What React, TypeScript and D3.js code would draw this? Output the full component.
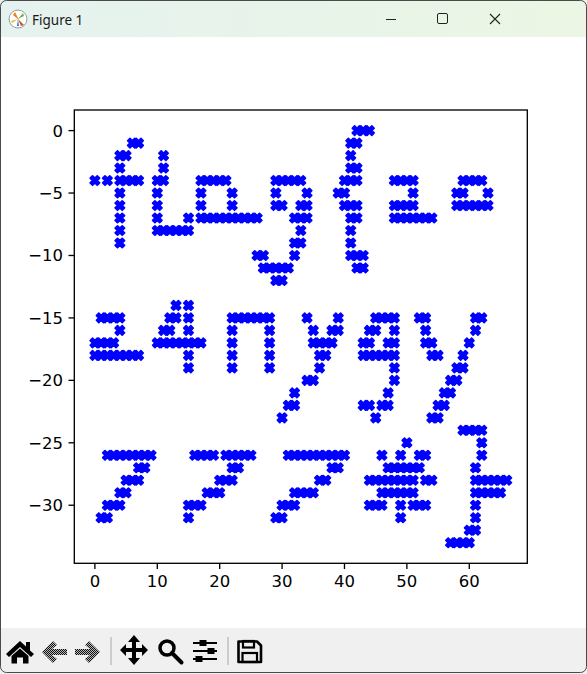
import React, { useEffect, useRef } from "react";
import * as d3 from "d3";

// each glyph: [y, x positions on that row]
type Row = [number, number[]];

// first line of text
const glyphF: Row[] = [
  [-1, [6, 7]], [-2, [4, 5]], [-3, [4]], [-4, [0, 2, 4, 5, 6, 7]],
  [-5, [4]], [-6, [4]], [-7, [4]], [-8, [4]], [-9, [4]],
];
const glyphL: Row[] = [
  [-2, [11]], [-3, [11]], [-4, [10, 11]], [-5, [10]], [-6, [10]],
  [-7, [10, 15]], [-8, [10, 11, 12, 13, 14, 15]],
];
const glyphA: Row[] = [
  [-4, [17, 18, 19, 20, 21]], [-5, [17, 22]], [-6, [17, 22]],
  [-7, [17, 18, 19, 20, 21, 22, 23, 24, 25, 26]],
];
const glyphG: Row[] = [
  [-4, [29, 30, 31, 32, 33]], [-5, [29, 34]], [-6, [29, 30, 33, 34]],
  [-7, [32, 33, 34]], [-8, [33]], [-9, [32, 33]], [-10, [26, 27, 32]],
  [-11, [27, 28, 29, 30, 31]], [-12, [29, 30]],
];
const glyphBraceOpen: Row[] = [
  [0, [42, 43, 44]], [-1, [41, 42]], [-2, [41]], [-3, [41, 42]],
  [-4, [40, 41, 42]], [-5, [39, 40]], [-6, [40, 41, 42]], [-7, [41, 42]],
  [-8, [41]], [-9, [41]], [-10, [41, 42, 43]], [-11, [42, 43]],
];
const glyphTwoA: Row[] = [
  [-4, [48, 49, 50, 51]], [-5, [51]], [-6, [48, 49, 50, 51]],
  [-7, [48, 49, 50, 51, 52, 53, 54]],
];
const glyphO: Row[] = [
  [-4, [59, 60, 61, 62]], [-5, [58, 59, 63]], [-6, [58, 59, 60, 61, 62, 63]],
];

// second line
const glyphTwoB: Row[] = [
  [-15, [1, 2, 3, 4]], [-16, [4]], [-17, [0, 1, 2, 3]],
  [-18, [0, 1, 2, 3, 4, 5, 6, 7]],
];
const glyphFour: Row[] = [
  [-14, [13, 15]], [-15, [12, 13, 15]], [-16, [11, 12, 15]],
  [-17, [10, 11, 12, 13, 14, 15, 16, 17]], [-18, [15]], [-19, [15]],
];
const glyphN: Row[] = [
  [-15, [22, 23, 24, 25, 26, 27, 28]], [-16, [22, 28]], [-17, [22, 28]],
  [-18, [22, 28]], [-19, [22, 28]],
];
const glyphY: Row[] = [
  [-15, [34, 39]], [-16, [35, 38, 39]], [-17, [35, 36, 37, 38]],
  [-18, [36, 37]], [-19, [36]], [-20, [34, 35]], [-21, [32]],
  [-22, [31, 32]], [-23, [30]],
];
const glyphG2: Row[] = [
  [-15, [45, 46, 47, 48]], [-16, [44, 45, 48]], [-17, [43, 44, 47, 48]],
  [-18, [43, 44, 45, 46, 47, 48]], [-19, [48]], [-20, [48]], [-21, [47]],
  [-22, [43, 44, 46, 47]], [-23, [45]],
];
const glyphPct: Row[] = [
  [-15, [52, 53, 61, 62]], [-16, [53, 61]], [-17, [53, 54, 60]],
  [-18, [54, 55, 59]], [-19, [58, 59]], [-20, [57, 58]], [-21, [56, 57]],
  [-22, [55, 56]], [-23, [54, 55]],
];

// third line
const glyphSevenA: Row[] = [
  [-26, [2, 3, 4, 5, 6, 7, 8, 9]], [-27, [7, 8]], [-28, [5, 6, 7]],
  [-29, [4, 5]], [-30, [2, 3, 4]], [-31, [1, 2]],
];
const glyphSevenB: Row[] = [
  [-26, [16, 17, 18, 19, 21, 22, 23, 24, 25]], [-27, [22, 23]],
  [-28, [20, 21, 22]], [-29, [18, 19, 20]], [-30, [15, 16, 17]], [-31, [15]],
];
const glyphSevenC: Row[] = [
  [-26, [31, 32, 33, 34, 35, 36, 37, 38, 39, 40]], [-27, [38, 39]],
  [-28, [36, 37]], [-29, [32, 33, 34, 35]], [-30, [30, 31, 32]], [-31, [29, 30]],
];
const glyphHash: Row[] = [
  [-25, [50]], [-26, [46, 49, 52, 53]], [-27, [47, 48, 49, 50, 51, 52]],
  [-28, [44, 45, 46, 47, 48, 49, 50, 51, 53, 54]], [-29, [46, 47, 48, 49, 50, 51]],
  [-30, [44, 45, 46, 49, 51, 52, 53]], [-31, [49]],
];
const glyphBraceClose: Row[] = [
  [-24, [59, 60, 61, 62]], [-25, [62]], [-26, [62]], [-27, [61]],
  [-28, [61, 62, 63, 64, 65, 66]], [-29, [61, 62, 63, 64, 65]],
  [-30, [61]], [-31, [61]], [-32, [60, 61]], [-33, [57, 58, 59, 60]],
];

const glyphs = [
  glyphF, glyphL, glyphA, glyphG, glyphBraceOpen, glyphTwoA, glyphO,
  glyphTwoB, glyphFour, glyphN, glyphY, glyphG2, glyphPct,
  glyphSevenA, glyphSevenB, glyphSevenC, glyphHash, glyphBraceClose,
];

const xTicks = [0, 10, 20, 30, 40, 50, 60];
const yTicks = [0, -5, -10, -15, -20, -25, -30];

const App: React.FC = () => {
  const svgRef = useRef<SVGSVGElement | null>(null);

  useEffect(() => {
    document.body.style.margin = "0";
    const svg = d3.select(svgRef.current);
    svg.selectAll("*").remove();

    const W = 587;
    const H = 674;
    const ax = { left: 74.3, right: 527.3, top: 110, bottom: 563.3 };

    const points = glyphs.flatMap(g => g.flatMap(([y, xs]) => xs.map(x => ({ x, y }))));

    const xScale = d3.scaleLinear().domain([-3.3, 69.3]).range([ax.left, ax.right]);
    const yScale = d3.scaleLinear().domain([-34.65, 1.65]).range([ax.bottom, ax.top]);

    const defs = svg.append("defs");
    const grad = defs.append("linearGradient").attr("id", "titlebg");
    grad.append("stop").attr("offset", "0%").attr("stop-color", "#e5f2ef");
    grad.append("stop").attr("offset", "100%").attr("stop-color", "#ebf6e4");
    const dither = defs.append("pattern")
      .attr("id", "dither")
      .attr("width", 2).attr("height", 2)
      .attr("patternUnits", "userSpaceOnUse");
    dither.append("rect").attr("width", 2).attr("height", 2).attr("fill", "#b8b8b8");
    dither.append("rect").attr("width", 1).attr("height", 1).attr("fill", "#111");
    dither.append("rect").attr("x", 1).attr("y", 1).attr("width", 1).attr("height", 1).attr("fill", "#111");

    // window
    svg.append("rect").attr("width", W).attr("height", H).attr("fill", "#ffffff");
    svg.append("rect").attr("x", 0).attr("y", 0).attr("width", W).attr("height", 37)
      .attr("fill", "url(#titlebg)");
    svg.append("rect").attr("x", 0).attr("y", 628).attr("width", W).attr("height", 46)
      .attr("fill", "#f0f0f0");
    svg.append("rect").attr("x", 0.5).attr("y", 0.5).attr("width", W - 1).attr("height", H - 2)
      .attr("rx", 6)
      .attr("fill", "none").attr("stroke", "#4a4a4a").attr("stroke-width", 1);

    // title bar
    const logo = svg.append("g").attr("transform", "translate(18,19)");
    logo.append("circle").attr("r", 9).attr("fill", "#fff").attr("stroke", "#9a9a9a").attr("stroke-width", 1);
    logo.append("path").attr("d", "M-5,-4 L1,1 L-3,-7 Z").attr("fill", "#e8842a");
    logo.append("path").attr("d", "M0,0 L6,6 L3,7 Z").attr("fill", "#d0541c");
    logo.append("path").attr("d", "M0,0 L5,-6 L6,-3 Z").attr("fill", "#6cb33f");
    logo.append("path").attr("d", "M0,0 L-7,2 L-6,4 Z").attr("fill", "#f2b632");
    logo.append("path").attr("d", "M0,0 L-1,7 L1,7 Z").attr("fill", "#3b7bbf");

    svg.append("text")
      .attr("x", 32).attr("y", 25)
      .style("font-family", "'Noto Sans', 'DejaVu Sans', sans-serif")
      .style("font-size", "13.5px")
      .style("fill", "#1a1a1a")
      .text("Figure 1");

    svg.append("line").attr("x1", 386).attr("x2", 396).attr("y1", 19.5).attr("y2", 19.5)
      .attr("stroke", "#222").attr("stroke-width", 1);
    svg.append("rect").attr("x", 437.5).attr("y", 13.5).attr("width", 10).attr("height", 10).attr("rx", 1.5)
      .attr("fill", "none").attr("stroke", "#222").attr("stroke-width", 1);
    svg.append("path").attr("d", "M490,14 L500,24 M500,14 L490,24")
      .attr("stroke", "#222").attr("stroke-width", 1.1);

    // axes frame
    svg.append("rect")
      .attr("x", ax.left).attr("y", ax.top)
      .attr("width", ax.right - ax.left).attr("height", ax.bottom - ax.top)
      .attr("fill", "none").attr("stroke", "#000").attr("stroke-width", 1.33);

    const tickFont = "'DejaVu Sans', sans-serif";
    const fmt = (v: number) => (v < 0 ? "\u2212" + Math.abs(v) : String(v));

    const xt = svg.append("g");
    xTicks.forEach(t => {
      const px = xScale(t);
      xt.append("line").attr("x1", px).attr("x2", px)
        .attr("y1", ax.bottom).attr("y2", ax.bottom + 5.8)
        .attr("stroke", "#000").attr("stroke-width", 1.33);
      xt.append("text").attr("x", px).attr("y", ax.bottom + 11.6).attr("dy", "0.76em")
        .attr("text-anchor", "middle")
        .style("font-family", tickFont).style("font-size", "16.5px").style("fill", "#000")
        .text(fmt(t));
    });

    const yt = svg.append("g");
    yTicks.forEach(t => {
      const py = yScale(t);
      yt.append("line").attr("x1", ax.left - 5.8).attr("x2", ax.left)
        .attr("y1", py).attr("y2", py)
        .attr("stroke", "#000").attr("stroke-width", 1.33);
      yt.append("text").attr("x", ax.left - 11.2).attr("y", py).attr("dy", "0.36em")
        .attr("text-anchor", "end")
        .style("font-family", tickFont).style("font-size", "16.5px").style("fill", "#000")
        .text(fmt(t));
    });

    // markers: filled X
    const xMarker = d3.symbol().type(d3.symbolCross).size(55.6);
    svg.append("g")
      .selectAll("path")
      .data(points)
      .enter()
      .append("path")
      .attr("d", xMarker() as string)
      .attr("transform", d => `translate(${xScale(d.x)},${yScale(d.y)}) rotate(45)`)
      .attr("fill", "#0000ff")
      .attr("stroke", "#0000ff")
      .attr("stroke-width", 1.67)
      .attr("stroke-linejoin", "round");

    // toolbar
    const tb = svg.append("g");
    // home
    tb.append("path")
      .attr("d", "M6,654 L20,641 L26,646.5 L26,642 L30,642 L30,650.5 L34,654 L31,657 L20,647 L9,657 Z M11.5,656 L20,648.5 L28.5,656 L28.5,663.5 L23,663.5 L23,657.5 L17,657.5 L17,663.5 L11.5,663.5 Z")
      .attr("fill", "#000");
    // back / forward (disabled, dithered)
    tb.append("path")
      .attr("d", "M42,652 L53,641 L57,645 L52,649 L67,649 L67,655 L52,655 L57,659 L53,663 Z")
      .attr("fill", "url(#dither)");
    tb.append("path")
      .attr("d", "M100,652 L89,641 L85,645 L90,649 L75,649 L75,655 L90,655 L85,659 L89,663 Z")
      .attr("fill", "url(#dither)");
    tb.append("line").attr("x1", 111).attr("x2", 111).attr("y1", 637).attr("y2", 665)
      .attr("stroke", "#a8a8a8").attr("stroke-width", 1);
    // pan
    tb.append("path")
      .attr("d", "M134,635 L140,642 L136,642 L136,648 L142,648 L142,644 L148,650 L142,656 L142,652 L136,652 L136,658 L140,658 L134,665 L128,658 L132,658 L132,652 L126,652 L126,656 L120,650 L126,644 L126,648 L132,648 L132,642 L128,642 Z")
      .attr("fill", "#000");
    // zoom
    tb.append("circle").attr("cx", 167).attr("cy", 648).attr("r", 7)
      .attr("fill", "none").attr("stroke", "#000").attr("stroke-width", 3.5);
    tb.append("line").attr("x1", 172).attr("y1", 653).attr("x2", 181.5).attr("y2", 662.5)
      .attr("stroke", "#000").attr("stroke-width", 4).attr("stroke-linecap", "round");
    // configure subplots
    [[643, 203], [651, 211], [659, 199]].forEach(([y, k]) => {
      tb.append("line").attr("x1", 193).attr("x2", 217).attr("y1", y).attr("y2", y)
        .attr("stroke", "#000").attr("stroke-width", 2);
      tb.append("rect").attr("x", k - 3.5).attr("y", y - 3).attr("width", 7).attr("height", 6)
        .attr("fill", "#000");
    });
    tb.append("line").attr("x1", 228).attr("x2", 228).attr("y1", 637).attr("y2", 665)
      .attr("stroke", "#a8a8a8").attr("stroke-width", 1);
    // save
    tb.append("path")
      .attr("d", "M238.5,641.5 L257,641.5 L261,645.5 L261,662 L238.5,662 Z")
      .attr("fill", "none").attr("stroke", "#000").attr("stroke-width", 2.6).attr("stroke-linejoin", "round");
    tb.append("rect").attr("x", 243).attr("y", 641).attr("width", 11).attr("height", 6.5)
      .attr("fill", "none").attr("stroke", "#000").attr("stroke-width", 2.2);
    tb.append("rect").attr("x", 242.5).attr("y", 653).attr("width", 14.5).attr("height", 9)
      .attr("fill", "none").attr("stroke", "#000").attr("stroke-width", 2.2);
  }, []);

  return (
    <svg
      ref={svgRef}
      width={587}
      height={674}
      style={{ position: "absolute", left: 0, top: 0, display: "block" }}
    />
  );
};

export default App;
